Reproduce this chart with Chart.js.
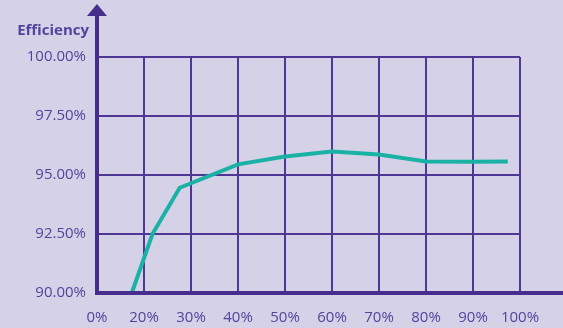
<!DOCTYPE html>
<html>
<head>
<meta charset="utf-8">
<script src="https://cdn.jsdelivr.net/npm/chart.js@4/dist/chart.umd.min.js"></script>
<style>
  html, body { margin: 0; padding: 0; background: #d5d2e8; }
  #wrap { width: 563px; height: 328px; position: relative; }
</style>
</head>
<body>
<div id="wrap"><canvas id="c"></canvas></div>
<script>
// Axis labels along the load axis (one per grid column)
const xLabels = ['0%', '20%', '30%', '40%', '50%', '60%', '70%', '80%', '90%', '100%'];
// Position of each measurement along the load axis (in grid-column units)
const loadPos = [0.74, 1.18, 1.76, 3, 4, 5, 6, 7, 8, 8.74];
// Measured efficiency (%)
const efficiency = [90.0, 92.5, 94.46, 95.45, 95.78, 96.0, 95.87, 95.57, 95.56, 95.57];
// Efficiency axis ticks
const yTicks = [90, 92.5, 95, 97.5, 100];

const PURPLE = '#482e8c';
const GRID = '#4f3795';
const TEXT = '#54439c';
const TEAL = '#1ab2a5';
const FONT = "'Open Sans', 'Noto Sans', sans-serif";

// Heavy axes with an arrow on the vertical one, plus the axis title
const axesPlugin = {
  id: 'axes',
  afterDraw(chart) {
    const { ctx, chartArea } = chart;
    const x0 = chartArea.left, y0 = chartArea.bottom;
    ctx.save();
    ctx.strokeStyle = PURPLE;
    ctx.fillStyle = PURPLE;
    ctx.lineWidth = 4;
    ctx.beginPath();
    ctx.moveTo(x0, y0 + 2);
    ctx.lineTo(x0, 14);
    ctx.stroke();
    ctx.beginPath();
    ctx.moveTo(x0 - 2, y0);
    ctx.lineTo(chart.width, y0);
    ctx.stroke();
    ctx.beginPath();
    ctx.moveTo(x0, 4);
    ctx.lineTo(x0 - 10, 16);
    ctx.lineTo(x0 + 10, 16);
    ctx.closePath();
    ctx.fill();
    ctx.font = "bold 15px " + FONT;
    ctx.fillStyle = TEXT;
    ctx.textAlign = 'right';
    ctx.textBaseline = 'middle';
    ctx.fillText('Efficiency', 89, 31);
    ctx.restore();
  }
};

new Chart(document.getElementById('c'), {
  type: 'line',
  data: {
    datasets: [{
      data: loadPos.map((x, i) => ({ x, y: efficiency[i] })),
      borderColor: TEAL,
      borderWidth: 4,
      pointRadius: 0,
      tension: 0,
      fill: false
    }]
  },
  options: {
    responsive: true,
    maintainAspectRatio: false,
    animation: false,
    layout: { padding: { left: 0, top: 57, right: 43, bottom: 0 } },
    plugins: { legend: { display: false }, tooltip: { enabled: false } },
    scales: {
      x: {
        type: 'linear',
        min: 0,
        max: xLabels.length - 1,
        afterFit(s) { s.height = 35; },
        afterBuildTicks(s) { s.ticks = xLabels.map((_, i) => ({ value: i })); },
        grid: { color: GRID, lineWidth: 2, drawTicks: false },
        border: { display: false },
        ticks: {
          padding: 16,
          color: TEXT,
          font: { family: FONT, size: 15 },
          maxRotation: 0,
          autoSkip: false,
          callback: (v) => xLabels[v]
        }
      },
      y: {
        min: 90,
        max: 100,
        afterFit(s) { s.width = 97; },
        afterBuildTicks(s) { s.ticks = yTicks.map(v => ({ value: v })); },
        grid: { color: GRID, lineWidth: 2, drawTicks: false },
        border: { display: false },
        ticks: {
          padding: 11,
          color: TEXT,
          font: { family: FONT, size: 15 },
          callback: (v) => v.toFixed(2) + '%'
        }
      }
    }
  },
  plugins: [axesPlugin]
});
</script>
</body>
</html>
